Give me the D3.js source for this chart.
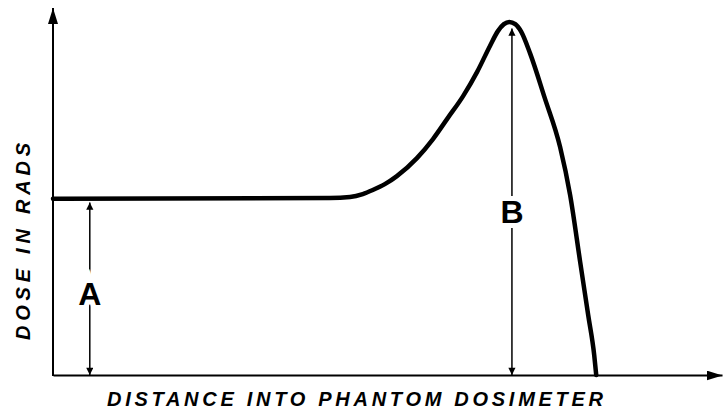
<!DOCTYPE html>
<html lang="en">
<head>
    <meta charset="utf-8">
    <script src="https://d3js.org/d3.v7.min.js"></script>
    <style>
        body { margin: 0; background: #fff; }
        text { font-family: "Liberation Sans", "DejaVu Sans", sans-serif; fill: #000; }
    </style>
</head>
<body>
    <svg id="chart"></svg>

    <script type="text/javascript" charset="utf-8">
        // depth-dose curve (Bragg peak), arbitrary units
        const depth = [0, 41.4, 44.4, 46.3, 47.8, 49.6, 51.4, 54.4, 56.8, 59.0, 61.3, 63.4, 65.3,
            66.5, 67.4, 68.2, 69.1, 70.0, 71.3, 73.5, 75.8, 77.3, 78.8, 80.0, 80.9, 81.2];
        const dose = [48.0, 48.2, 48.5, 49.3, 50.4, 52.0, 54.2, 59.1, 64.3, 70.0, 76.0, 82.6, 89.6,
            93.7, 95.6, 96.2, 95.6, 93.5, 87.7, 75.5, 62.1, 49.0, 30.8, 16.3, 5.4, 0];

        // the two dimension arrows: A = plateau dose, B = peak dose
        const arrowNames = ["A", "B"];
        const arrowDepth = [5.5, 68.6];
        const arrowTop = [47.0, 94.4];
        const labelDose = [22.0, 44.5];

        const xTitle = "DISTANCE INTO PHANTOM DOSIMETER";
        const yTitle = "DOSE IN RADS";

        const width = 724, height = 415;
        const margin = { top: 8, right: 2, bottom: 40, left: 53 };

        const svg = d3.select("#chart")
            .attr("width", width)
            .attr("height", height);

        const x = d3.scaleLinear()
            .domain([0, 100])
            .range([margin.left, width - margin.right]);

        const y = d3.scaleLinear()
            .domain([0, 100])
            .range([height - margin.bottom, margin.top]);

        const defs = svg.append("defs");
        // small filled arrow heads for A and B
        defs.append("marker")
            .attr("id", "tip")
            .attr("viewBox", "0 0 10 14")
            .attr("refX", 10).attr("refY", 5)
            .attr("markerWidth", 14).attr("markerHeight", 10)
            .attr("markerUnits", "userSpaceOnUse")
            .attr("orient", "auto-start-reverse")
            .append("path")
            .attr("d", "M0,0 L10,5 L0,10 Z")
            .attr("fill", "#000");
        // bigger head for the axes
        defs.append("marker")
            .attr("id", "axisTip")
            .attr("viewBox", "0 0 16 10")
            .attr("refX", 16).attr("refY", 5)
            .attr("markerWidth", 16).attr("markerHeight", 10)
            .attr("markerUnits", "userSpaceOnUse")
            .attr("orient", "auto")
            .append("path")
            .attr("d", "M0,0 L16,5 L0,10 Z")
            .attr("fill", "#000");

        // axes without ticks, just the lines
        const xAxis = svg.append("g")
            .attr("transform", `translate(0,${y(0)})`)
            .call(d3.axisBottom(x).tickValues([]).tickSizeOuter(0));
        xAxis.select(".domain")
            .attr("stroke-width", 2)
            .attr("marker-end", "url(#axisTip)");

        const yAxis = svg.append("g")
            .attr("transform", `translate(${x(0)},0)`)
            .call(d3.axisLeft(y).tickValues([]).tickSizeOuter(0));
        yAxis.select(".domain")
            .attr("d", `M0,${y(0) + 1}V${y(100)}`)
            .attr("stroke-width", 2)
            .attr("marker-end", "url(#axisTip)");

        // dose curve
        const line = d3.line()
            .x((d, i) => x(depth[i]))
            .y(d => y(d))
            .curve(d3.curveMonotoneX);

        svg.append("path")
            .datum(dose)
            .attr("d", line)
            .attr("fill", "none")
            .attr("stroke", "#000")
            .attr("stroke-width", 4.5)
            .attr("stroke-linecap", "round")
            .attr("stroke-linejoin", "round");

        // double-headed arrows with their letters
        arrowNames.forEach((name, i) => {
            svg.append("line")
                .attr("x1", x(arrowDepth[i])).attr("x2", x(arrowDepth[i]))
                .attr("y1", y(0)).attr("y2", y(arrowTop[i]))
                .attr("stroke", "#000")
                .attr("stroke-width", 1.5)
                .attr("marker-start", "url(#tip)")
                .attr("marker-end", "url(#tip)");

            svg.append("text")
                .attr("x", x(arrowDepth[i]))
                .attr("y", y(labelDose[i]))
                .attr("text-anchor", "middle")
                .attr("dominant-baseline", "central")
                .style("font-size", "32px")
                .style("font-weight", "bold")
                .style("stroke", "#fff")
                .style("stroke-width", 10)
                .style("paint-order", "stroke")
                .text(name);
        });

        // axis titles
        svg.append("text")
            .attr("x", 107)
            .attr("y", 406)
            .attr("textLength", 496)
            .attr("lengthAdjust", "spacing")
            .style("font-size", "20px")
            .style("font-weight", "bold")
            .style("font-style", "italic")
            .text(xTitle);

        svg.append("text")
            .attr("transform", `translate(30,340) rotate(-90)`)
            .attr("textLength", 197)
            .attr("lengthAdjust", "spacing")
            .style("font-size", "20px")
            .style("font-weight", "bold")
            .style("font-style", "italic")
            .text(yTitle);
    </script>
</body>
</html>
